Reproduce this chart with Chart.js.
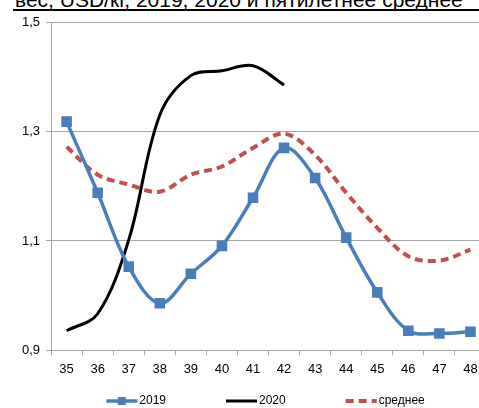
<!DOCTYPE html>
<html>
<head>
<meta charset="utf-8">
<script src="https://cdn.jsdelivr.net/npm/chart.js@4"></script>
<style>
  html, body { margin: 0; padding: 0; background: #fff; overflow: hidden; }
  #wrap { position: relative; width: 479px; height: 408px; overflow: hidden; }
  #title {
    position: absolute; left: 15px; top: -12px; white-space: nowrap;
    font: 21px "Liberation Sans", Arial, sans-serif; color: #000;
  }
  #rule { position: absolute; left: 13px; top: 9px; width: 470px; height: 2px; background: #000; }
  #box { position: absolute; left: 0; top: 0; width: 532px; height: 408px; }
</style>
</head>
<body>
<div id="wrap">
  <div id="title">вес, USD/кг, 2019, 2020 и пятилетнее среднее</div>
  <div id="rule"></div>
  <div id="box"><canvas id="priceChart"></canvas></div>
</div>
<script>
const weeks = ['35', '36', '37', '38', '39', '40', '41', '42', '43', '44', '45', '46', '47', '48'];
const values2019 = [1.318, 1.188, 1.053, 0.986, 1.040, 1.091, 1.179, 1.270, 1.215, 1.106, 1.006, 0.936, 0.931, 0.934];
const values2020 = [0.936, 0.967, 1.102, 1.330, 1.402, 1.411, 1.420, 1.385, null, null, null, null, null, null];
const valuesAvg = [1.272, 1.221, 1.203, 1.190, 1.221, 1.236, 1.270, 1.296, 1.257, 1.188, 1.124, 1.072, 1.064, 1.084];
const yTicks = [0.9, 1.1, 1.3, 1.5];

const gridColor = '#a6a6a6';
const fontFamily = '"Liberation Sans", Arial, sans-serif';

// legend drawn by hand: line (+ marker for 2019), then label, with wide gaps like Excel
const bottomLegend = {
    id: 'bottomLegend',
    afterDraw(chart) {
        const c = chart.ctx;
        const lineLen = 31, gap = 60, y = 401;
        c.save();
        c.font = '12px ' + fontFamily;
        c.textBaseline = 'middle';
        const items = chart.data.datasets.map(ds => ({
            ds, w: lineLen + 2 + c.measureText(ds.label).width
        }));
        const total = items.reduce((s, it) => s + it.w, 0) + gap * (items.length - 1);
        let x = (chart.chartArea.left + chart.chartArea.right) / 2 - total / 2 - 3;
        items.forEach(it => {
            const ds = it.ds;
            c.strokeStyle = ds.borderColor;
            c.lineWidth = ds.borderWidth;
            c.setLineDash(ds.borderDash || []);
            c.beginPath();
            c.moveTo(x, y);
            c.lineTo(x + lineLen, y);
            c.stroke();
            c.setLineDash([]);
            if (ds.pointRadius > 0) {
                c.fillStyle = ds.backgroundColor;
                c.fillRect(x + lineLen / 2 - 4, y - 4, 8, 8);
            }
            c.fillStyle = '#000';
            c.fillText(ds.label, x + lineLen + 2, y);
            x += it.w + gap;
        });
        c.restore();
    }
};

const ctx = document.getElementById('priceChart').getContext('2d');
const chart = new Chart(ctx, {
    type: 'line',
    data: {
        labels: weeks,
        datasets: [{
            label: '2019',
            data: values2019,
            borderColor: '#4a7ebb',
            backgroundColor: '#4a7ebb',
            borderWidth: 3.5,
            pointStyle: 'rect',
            pointRadius: 5,
            pointHoverRadius: 5,
            tension: 0.35
        }, {
            label: '2020',
            data: values2020,
            borderColor: '#000000',
            backgroundColor: '#000000',
            borderWidth: 3,
            pointRadius: 0,
            tension: 0.35
        }, {
            label: 'среднее',
            data: valuesAvg,
            borderColor: '#c0504d',
            backgroundColor: '#c0504d',
            borderWidth: 4,
            borderDash: [8, 5],
            pointRadius: 0,
            tension: 0.35
        }]
    },
    options: {
        responsive: true,
        maintainAspectRatio: false,
        animation: false,
        layout: { padding: { top: 22, right: 46, left: 16, bottom: 25 } },
        plugins: {
            tooltip: { enabled: false },
            legend: { display: false }
        },
        scales: {
            x: {
                offset: true,
                grid: {
                    offset: true,
                    drawOnChartArea: false,
                    drawTicks: true,
                    tickLength: 5,
                    color: gridColor
                },
                border: { color: gridColor },
                ticks: {
                    color: '#000',
                    font: { family: fontFamily, size: 13 },
                    maxRotation: 0,
                    autoSkip: false,
                    padding: 6
                }
            },
            y: {
                min: 0.9,
                max: 1.5,
                afterBuildTicks(axis) {
                    axis.ticks = yTicks.map(v => ({ value: v }));
                },
                grid: {
                    color: gridColor,
                    tickLength: 5
                },
                border: { color: gridColor },
                ticks: {
                    color: '#000',
                    font: { family: fontFamily, size: 13 },
                    padding: 6,
                    callback: v => v.toFixed(1).replace('.', ',')
                }
            }
        }
    },
    plugins: [bottomLegend]
});
</script>
</body>
</html>
